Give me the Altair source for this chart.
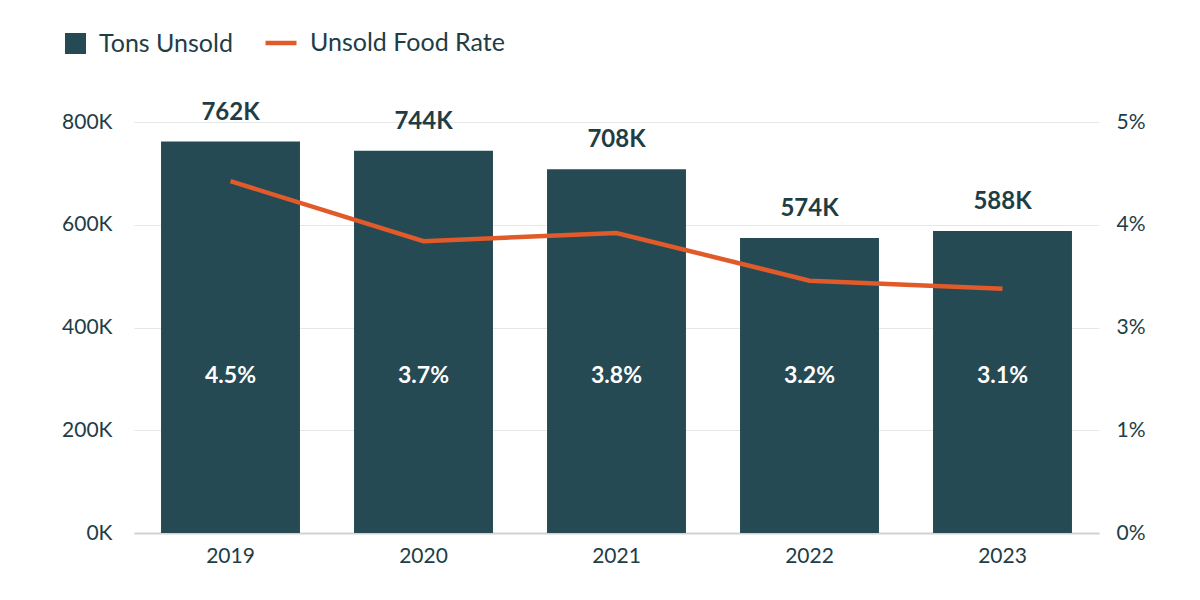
import altair as alt
import pandas as pd

years = ["2019", "2020", "2021", "2022", "2023"]
tons_unsold = [762000, 744000, 708000, 574000, 588000]
tons_labels = ["762K", "744K", "708K", "574K", "588K"]
rate_labels = ["4.5%", "3.7%", "3.8%", "3.2%", "3.1%"]
rate_line = [0.0428, 0.0355, 0.0365, 0.0307, 0.0297]

left_ticks = [0, 200000, 400000, 600000, 800000]
right_ticks = [0, 0.0125, 0.025, 0.0375, 0.05]
right_tick_labels = ["0%", "1%", "3%", "4%", "5%"]
series_names = ["Tons Unsold", "Unsold Food Rate"]

df = pd.DataFrame({
    "year": years,
    "tons": tons_unsold,
    "tons_label": tons_labels,
    "rate_label": rate_labels,
    "rate": rate_line,
    "bar_series": [series_names[0]] * len(years),
    "line_series": [series_names[1]] * len(years),
})

FONT = "Lato"
DARK = "#1e3d45"
BAR = "#264a54"
ORANGE = "#e05a2a"

label_array = "[" + ",".join("'" + s + "'" for s in right_tick_labels) + "]"

x_enc = alt.X(
    "year:N",
    sort=years,
    scale=alt.Scale(paddingInner=0.28, paddingOuter=0.14),
    axis=alt.Axis(
        title=None, labelAngle=0, labelFontSize=21, labelColor=DARK, labelFont=FONT,
        ticks=False, domain=True, domainColor="#cfd3d4", domainWidth=2,
        labelPadding=12, grid=False,
    ),
)

y_left = alt.Y(
    "tons:Q",
    scale=alt.Scale(domain=[0, 800000], nice=False),
    axis=alt.Axis(
        title=None, values=left_ticks, labelExpr="format(datum.value/1000, 'd') + 'K'",
        labelFontSize=21, labelColor=DARK, labelFont=FONT, ticks=False, domain=False,
        grid=True, gridColor="#e6e8e8", gridWidth=1.2, labelPadding=22,
    ),
)

base = alt.Chart(df)

bars = base.mark_bar().encode(
    x=x_enc,
    y=y_left,
    fill=alt.Fill(
        "bar_series:N",
        scale=alt.Scale(domain=[series_names[0]], range=[BAR]),
        legend=alt.Legend(
            title=None, orient="none", legendX=-71, legendY=-91,
            symbolType="square", symbolSize=441, symbolStrokeWidth=0,
            labelFontSize=25, labelColor=DARK, labelFont=FONT, labelOffset=11,
            labelLimit=400,
        ),
    ),
)

top_labels = base.mark_text(
    font=FONT, fontSize=24, fontWeight="bold", color=DARK, baseline="alphabetic", dy=-22
).encode(x=alt.X("year:N", sort=years), y="tons:Q", text="tons_label:N")

inner_labels = base.mark_text(
    font=FONT, fontSize=23, fontWeight="bold", color="white", baseline="middle"
).encode(x=alt.X("year:N", sort=years), y=alt.value(254), text="rate_label:N")

left = alt.layer(bars, top_labels, inner_labels)

line = base.mark_line(strokeWidth=4.5).encode(
    x=alt.X("year:N", sort=years),
    y=alt.Y(
        "rate:Q",
        scale=alt.Scale(domain=[0, 0.05], nice=False),
        axis=alt.Axis(
            title=None, orient="right", values=right_ticks,
            labelExpr=label_array + "[round(datum.value / 0.0125)]",
            labelFontSize=21, labelColor=DARK, labelFont=FONT, ticks=False,
            domain=False, grid=False, labelPadding=17,
        ),
    ),
    stroke=alt.Stroke(
        "line_series:N",
        scale=alt.Scale(domain=[series_names[1]], range=[ORANGE]),
        legend=alt.Legend(
            title=None, orient="none", legendX=129, legendY=-97,
            symbolType="stroke", symbolSize=961, symbolStrokeWidth=4.5,
            labelFontSize=25, labelColor=DARK, labelFont=FONT, labelOffset=11,
            labelLimit=400,
        ),
    ),
)

chart = (
    alt.layer(left, line)
    .resolve_scale(y="independent")
    .properties(
        width=965, height=411,
        autosize=alt.AutoSizeParams(type="none"),
        padding={"left": 126, "top": 114, "right": 93, "bottom": 59},
        background="white",
    )
    .configure_view(stroke=None)
)

chart.save("out.html", embed_options={"renderer": "svg", "actions": False})
